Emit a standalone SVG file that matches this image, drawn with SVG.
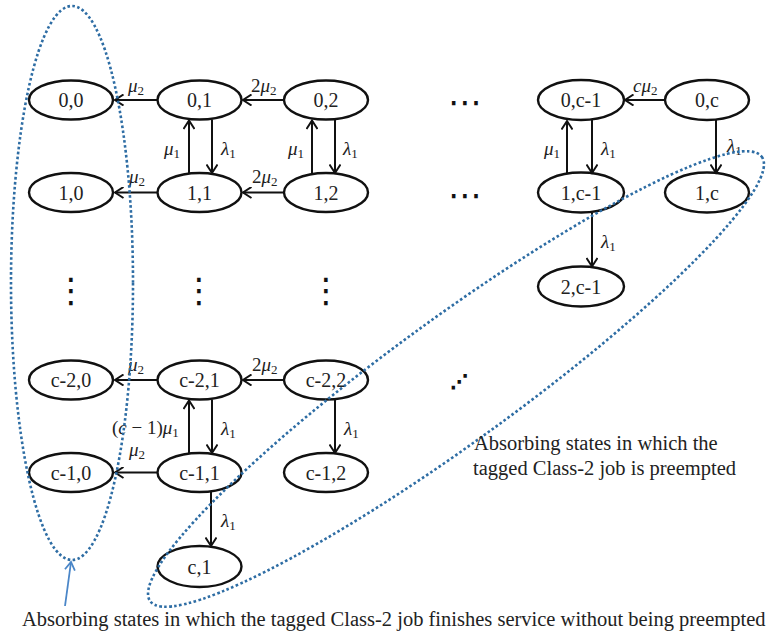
<svg xmlns="http://www.w3.org/2000/svg" width="768" height="637" viewBox="0 0 768 637">
<defs>
<style>
.node ellipse{fill:#fff;stroke:#111;stroke-width:2.4}
.node text{font-family:"Liberation Serif","Times New Roman",serif;font-size:20px;fill:#222;text-anchor:middle}
.edge{stroke:#111;stroke-width:2;fill:none;marker-end:url(#ah)}
.lab{font-family:"Liberation Serif","Times New Roman",serif;font-size:19px;fill:#222}
.lab .i{font-style:italic}
.lab .s{font-size:13px}
.dots{font-family:"DejaVu Sans",sans-serif;font-size:34px;fill:#111;text-anchor:middle}
.region{fill:none;stroke:#2e6da4;stroke-width:2.6;stroke-dasharray:2.6 2.4}
.note{font-family:"Liberation Serif","Times New Roman",serif;font-size:20.5px;fill:#222}
</style>
<marker id="ah" markerUnits="userSpaceOnUse" markerWidth="12" markerHeight="12" viewBox="-10 -6 12 12" refX="0" refY="0" orient="auto">
<path d="M-8.5,-5.5 L0,0 L-8.5,5.5" fill="none" stroke="#111" stroke-width="2"/>
</marker>
<marker id="ahb" markerUnits="userSpaceOnUse" markerWidth="12" markerHeight="12" viewBox="-10 -6 12 12" refX="0" refY="0" orient="auto">
<path d="M-8,-5 L0,0 L-8,5" fill="none" stroke="#4a86c8" stroke-width="1.8"/>
</marker>
</defs>
<rect width="768" height="637" fill="#fff"/>

<g id="n-0-0" class="node"><ellipse cx="71" cy="100" rx="42" ry="19.5"/><text x="71" y="107">0,0</text></g>
<g id="n-0-1" class="node"><ellipse cx="199.5" cy="100" rx="42" ry="19.5"/><text x="199.5" y="107">0,1</text></g>
<g id="n-0-2" class="node"><ellipse cx="326" cy="100" rx="42" ry="19.5"/><text x="326" y="107">0,2</text></g>
<g id="n-0-cm1" class="node"><ellipse cx="581" cy="100" rx="43" ry="20"/><text x="581" y="107">0,c-1</text></g>
<g id="n-0-c" class="node"><ellipse cx="707" cy="100" rx="42" ry="20"/><text x="707" y="107">0,c</text></g>

<g id="n-1-0" class="node"><ellipse cx="71" cy="192.5" rx="42" ry="19.5"/><text x="71" y="199.5">1,0</text></g>
<g id="n-1-1" class="node"><ellipse cx="199.5" cy="192.5" rx="42" ry="19.5"/><text x="199.5" y="199.5">1,1</text></g>
<g id="n-1-2" class="node"><ellipse cx="326" cy="192.5" rx="42" ry="19.5"/><text x="326" y="199.5">1,2</text></g>
<g id="n-1-cm1" class="node"><ellipse cx="581" cy="192.5" rx="43" ry="20"/><text x="581" y="199.5">1,c-1</text></g>
<g id="n-1-c" class="node"><ellipse cx="707" cy="192.5" rx="42" ry="20"/><text x="707" y="199.5">1,c</text></g>

<g id="n-2-cm1" class="node"><ellipse cx="581" cy="286.5" rx="43" ry="20"/><text x="581" y="293.5">2,c-1</text></g>

<g id="n-cm2-0" class="node"><ellipse cx="71" cy="380" rx="42" ry="19.5"/><text x="71" y="387">c-2,0</text></g>
<g id="n-cm2-1" class="node"><ellipse cx="199.5" cy="380" rx="42" ry="19.5"/><text x="199.5" y="387">c-2,1</text></g>
<g id="n-cm2-2" class="node"><ellipse cx="326" cy="380" rx="42" ry="19.5"/><text x="326" y="387">c-2,2</text></g>

<g id="n-cm1-0" class="node"><ellipse cx="71" cy="472.5" rx="42" ry="19.5"/><text x="71" y="479.5">c-1,0</text></g>
<g id="n-cm1-1" class="node"><ellipse cx="199.5" cy="472.5" rx="42" ry="19.5"/><text x="199.5" y="479.5">c-1,1</text></g>
<g id="n-cm1-2" class="node"><ellipse cx="326" cy="472.5" rx="42" ry="19.5"/><text x="326" y="479.5">c-1,2</text></g>

<g id="n-c-1" class="node"><ellipse cx="199.5" cy="566.5" rx="42" ry="20.5"/><text x="199.5" y="573.5">c,1</text></g>

<g id="connectors">
<line class="edge" x1="157.5" y1="100" x2="115" y2="100"/>
<line class="edge" x1="284" y1="100" x2="243" y2="100"/>
<line class="edge" x1="664" y1="100" x2="625" y2="100"/>
<line class="edge" x1="189" y1="173" x2="189" y2="120.5"/>
<line class="edge" x1="212" y1="119.5" x2="212" y2="173"/>
<line class="edge" x1="312" y1="173" x2="312" y2="120.5"/>
<line class="edge" x1="335" y1="119.5" x2="335" y2="173"/>
<line class="edge" x1="567" y1="173" x2="567" y2="121"/>
<line class="edge" x1="592" y1="120" x2="592" y2="173"/>
<line class="edge" x1="716" y1="120" x2="716" y2="173"/>
<line class="edge" x1="157.5" y1="192.5" x2="115" y2="192.5"/>
<line class="edge" x1="284" y1="192.5" x2="243" y2="192.5"/>
<line class="edge" x1="592" y1="212.5" x2="592" y2="266.5"/>
<line class="edge" x1="157.5" y1="380" x2="115" y2="380"/>
<line class="edge" x1="284" y1="380" x2="243" y2="380"/>
<line class="edge" x1="189" y1="453" x2="189" y2="400.5"/>
<line class="edge" x1="212" y1="399.5" x2="212" y2="453"/>
<line class="edge" x1="335" y1="399.5" x2="335" y2="453"/>
<line class="edge" x1="157.5" y1="472.5" x2="115" y2="472.5"/>
<line class="edge" x1="211" y1="492" x2="211" y2="546"/>
</g>

<g id="labels">
<text class="lab" x="128" y="92"><tspan class="i">μ</tspan><tspan class="s" dy="3">2</tspan></text>
<text class="lab" x="251" y="92">2<tspan class="i">μ</tspan><tspan class="s" dy="3">2</tspan></text>
<text class="lab" x="633" y="92"><tspan class="i">cμ</tspan><tspan class="s" dy="3">2</tspan></text>
<text class="lab" x="164" y="155"><tspan class="i">μ</tspan><tspan class="s" dy="3">1</tspan></text>
<text class="lab" x="221" y="155"><tspan class="i">λ</tspan><tspan class="s" dy="3">1</tspan></text>
<text class="lab" x="288" y="155"><tspan class="i">μ</tspan><tspan class="s" dy="3">1</tspan></text>
<text class="lab" x="343" y="155"><tspan class="i">λ</tspan><tspan class="s" dy="3">1</tspan></text>
<text class="lab" x="544" y="155"><tspan class="i">μ</tspan><tspan class="s" dy="3">1</tspan></text>
<text class="lab" x="601" y="155"><tspan class="i">λ</tspan><tspan class="s" dy="3">1</tspan></text>
<text class="lab" x="727" y="152"><tspan class="i">λ</tspan><tspan class="s" dy="3">1</tspan></text>
<text class="lab" x="129" y="183"><tspan class="i">μ</tspan><tspan class="s" dy="3">2</tspan></text>
<text class="lab" x="252" y="183">2<tspan class="i">μ</tspan><tspan class="s" dy="3">2</tspan></text>
<text class="lab" x="601" y="248"><tspan class="i">λ</tspan><tspan class="s" dy="3">1</tspan></text>
<text class="lab" x="128" y="371"><tspan class="i">μ</tspan><tspan class="s" dy="3">2</tspan></text>
<text class="lab" x="252" y="371">2<tspan class="i">μ</tspan><tspan class="s" dy="3">2</tspan></text>
<text class="lab" x="112" y="434">(<tspan class="i">c</tspan> − 1)<tspan class="i">μ</tspan><tspan class="s" dy="3">1</tspan></text>
<text class="lab" x="221" y="435"><tspan class="i">λ</tspan><tspan class="s" dy="3">1</tspan></text>
<text class="lab" x="344" y="435"><tspan class="i">λ</tspan><tspan class="s" dy="3">1</tspan></text>
<text class="lab" x="129" y="456"><tspan class="i">μ</tspan><tspan class="s" dy="3">2</tspan></text>
<text class="lab" x="221" y="527"><tspan class="i">λ</tspan><tspan class="s" dy="3">1</tspan></text>
</g>

<g id="ellipsis">
<text class="dots" x="465" y="114">⋯</text>
<text class="dots" x="465" y="207">⋯</text>
<text class="dots" x="71" y="302">⋮</text>
<text class="dots" x="199" y="302">⋮</text>
<text class="dots" x="326" y="302">⋮</text>
<text class="dots" x="459" y="387" style="font-size:17px" stroke="#111" stroke-width="1.6">⋰</text>
</g>

<g id="regions">
<ellipse class="region" cx="72" cy="283" rx="61" ry="277"/>
<ellipse class="region" cx="456" cy="379" rx="378" ry="62" transform="rotate(-36 456 379)"/>
<line x1="65" y1="606" x2="71" y2="562" stroke="#4a86c8" stroke-width="1.8" marker-end="url(#ahb)"/>
</g>

<g id="notes">
<text class="note" x="474" y="450">Absorbing states in which the</text>
<text class="note" x="473" y="475">tagged Class-2 job is preempted</text>
<text class="note" x="22" y="626">Absorbing states in which the tagged Class-2 job finishes service without being preempted</text>
</g>
</svg>
